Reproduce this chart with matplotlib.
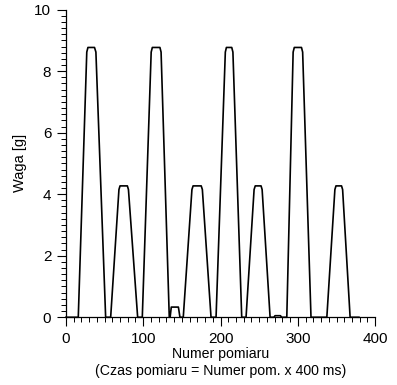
import matplotlib
matplotlib.use("Agg")
import matplotlib.pyplot as plt
from matplotlib.ticker import MultipleLocator

# Numer pomiaru / waga [g]
numer = [0, 16, 27, 28.5, 37, 38.8, 51.4, 57.9, 68.6, 70, 79.5, 80.9, 92.8, 98.8,
         110.3, 111.8, 121.6, 123.1, 133.7, 134.8, 136.3, 145.5, 147.5, 151.8,
         163, 164.5, 175, 176.5, 187.7, 194.2, 206.2, 207.6, 214.5, 216, 227.4,
         233, 243.4, 244.9, 252.4, 253.8, 264.1, 269, 270.5, 277.5, 279, 285.7,
         293.9, 295.4, 304.7, 306.2, 317, 337.5, 347.9, 349.3, 356.5, 357.9,
         367.6, 379]
waga = [0, 0, 8.62, 8.77, 8.77, 8.62, 0, 0, 4.15, 4.27, 4.27, 4.15, 0, 0,
        8.62, 8.77, 8.77, 8.62, 0, 0, 0.33, 0.33, 0, 0,
        4.15, 4.27, 4.27, 4.15, 0, 0, 8.62, 8.77, 8.77, 8.62, 0,
        0, 4.15, 4.27, 4.27, 4.15, 0, 0, 0.05, 0.05, 0, 0,
        8.62, 8.77, 8.77, 8.62, 0, 0, 4.15, 4.27, 4.27, 4.15,
        0, 0]

plt.rcParams["font.family"] = ["Liberation Sans", "DejaVu Sans"]

fig = plt.figure(figsize=(3.97, 3.85), dpi=100)
ax = fig.add_axes([0.166, 0.176, 0.779, 0.799])

ax.plot(numer, waga, color="black", linewidth=1.2, clip_on=False)

ax.set_xlim(0, 400)
ax.set_ylim(0, 10)
ax.xaxis.set_major_locator(MultipleLocator(100))
ax.xaxis.set_minor_locator(MultipleLocator(10))
ax.yaxis.set_major_locator(MultipleLocator(2))
ax.yaxis.set_minor_locator(MultipleLocator(0.2))

ax.spines["top"].set_visible(False)
ax.spines["right"].set_visible(False)
for s in ("left", "bottom"):
    ax.spines[s].set_linewidth(0.9)

ax.tick_params(which="major", length=6.5, width=0.8, labelsize=11, pad=4)
ax.tick_params(which="minor", length=3.3, width=0.7)

ax.set_xlabel("Numer pomiaru\n(Czas pomiaru = Numer pom. x 400 ms)",
              fontsize=10.2, labelpad=1, linespacing=1.25)
ax.set_ylabel("Waga [g]", fontsize=10.5, labelpad=5)

fig.savefig("out.png", dpi=100)
